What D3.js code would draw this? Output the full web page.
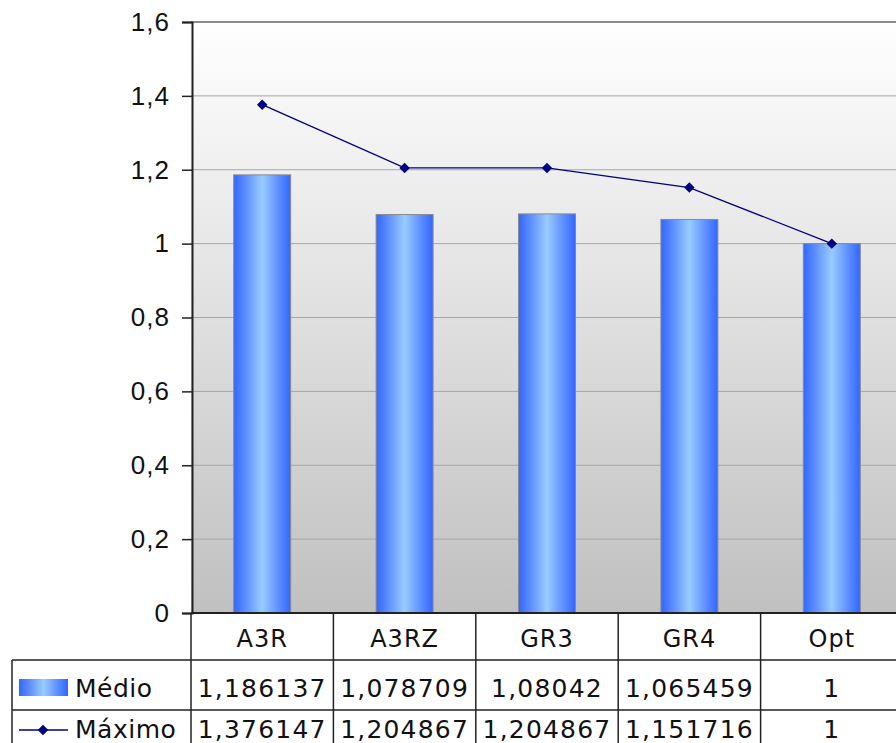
<!DOCTYPE html>
<html>
<head>
<meta charset="utf-8">
<script src="https://cdn.jsdelivr.net/npm/d3@7"></script>
<style>
  html, body { margin: 0; padding: 0; background: #fff; }
  svg { display: block; font-family: "DejaVu Sans", Verdana, sans-serif; }
</style>
</head>
<body>
<div id="chart"></div>
<script>
const categories = ['A3R', 'A3RZ', 'GR3', 'GR4', 'Opt'];
const medio = [1.186137, 1.078709, 1.08042, 1.065459, 1];
const maximo = [1.376147, 1.204867, 1.204867, 1.151716, 1];
const yTicks = [0, 0.2, 0.4, 0.6, 0.8, 1, 1.2, 1.4, 1.6];
const seriesNames = ['Médio', 'Máximo'];

const W = 896, H = 743;
const plot = { left: 191, top: 22, bottom: 613, catWidth: 142.4 };

const fmtNum = v => String(v).replace('.', ',');

const svg = d3.select('#chart').append('svg')
  .attr('width', W)
  .attr('height', H);

const defs = svg.append('defs');

const bg = defs.append('linearGradient')
  .attr('id', 'bgGrad')
  .attr('x1', 0).attr('y1', 0).attr('x2', 0).attr('y2', 1);
bg.append('stop').attr('offset', '0%').attr('stop-color', '#ffffff');
bg.append('stop').attr('offset', '100%').attr('stop-color', '#c0c0c0');

const barGrad = defs.append('linearGradient')
  .attr('id', 'barGrad')
  .attr('x1', 0).attr('y1', 0).attr('x2', 1).attr('y2', 0);
barGrad.append('stop').attr('offset', '0%').attr('stop-color', '#3366ff');
barGrad.append('stop').attr('offset', '20%').attr('stop-color', '#5b8cff');
barGrad.append('stop').attr('offset', '50%').attr('stop-color', '#99ccff');
barGrad.append('stop').attr('offset', '80%').attr('stop-color', '#5b8cff');
barGrad.append('stop').attr('offset', '100%').attr('stop-color', '#3366ff');

const x = d3.scaleBand()
  .domain(categories)
  .range([plot.left, plot.left + categories.length * plot.catWidth])
  .paddingInner(0.6)
  .paddingOuter(0.3);

const xCell = d3.scaleBand()
  .domain(categories)
  .range([plot.left, plot.left + categories.length * plot.catWidth]);

const y = d3.scaleLinear()
  .domain([0, 1.6])
  .range([plot.bottom, plot.top]);

// plot background
svg.append('rect')
  .attr('x', plot.left)
  .attr('y', plot.top)
  .attr('width', W - plot.left)
  .attr('height', plot.bottom - plot.top)
  .attr('fill', 'url(#bgGrad)');

// gridlines
svg.append('g')
  .selectAll('line')
  .data(yTicks.filter(d => d > 0))
  .join('line')
  .attr('x1', plot.left)
  .attr('x2', W)
  .attr('y1', d => y(d))
  .attr('y2', d => y(d))
  .attr('stroke', d => d === 1.6 ? '#8c8c8c' : '#a6a6a6')
  .attr('stroke-width', d => d === 1.6 ? 2 : 1);

// y axis
const yAxis = d3.axisLeft(y)
  .tickValues(yTicks)
  .tickSize(10)
  .tickPadding(12)
  .tickFormat(d => fmtNum(d));

const yg = svg.append('g')
  .attr('transform', `translate(${plot.left + 1},0)`)
  .call(yAxis);
yg.select('.domain').attr('stroke', '#222').attr('stroke-width', 2);
yg.selectAll('.tick line').attr('stroke', '#222').attr('stroke-width', 1.5);
yg.selectAll('.tick text')
  .attr('font-size', 26)
  .attr('letter-spacing', 1)
  .attr('fill', '#111');

// bars
svg.append('g')
  .selectAll('rect')
  .data(medio)
  .join('rect')
  .attr('x', (d, i) => x(categories[i]))
  .attr('y', d => y(d))
  .attr('width', x.bandwidth())
  .attr('height', d => y(0) - y(d))
  .attr('fill', 'url(#barGrad)')
  .attr('stroke', '#8a8a8a')
  .attr('stroke-width', 1);

// maximo line
const cx = i => x(categories[i]) + x.bandwidth() / 2;
const line = d3.line()
  .x((d, i) => cx(i))
  .y(d => y(d));

svg.append('path')
  .datum(maximo)
  .attr('fill', 'none')
  .attr('stroke', '#000080')
  .attr('stroke-width', 1.3)
  .attr('d', line);

const diamond = d3.symbol().type(d3.symbolDiamond2).size(70);
svg.append('g')
  .selectAll('path')
  .data(maximo)
  .join('path')
  .attr('transform', (d, i) => `translate(${cx(i)},${y(d)})`)
  .attr('d', diamond)
  .attr('fill', '#000080');

// data table
const table = svg.append('g');
const rowTop = [plot.bottom, 660, 710, 760];
const tableLeft = 12;
const tableRight = W + 10;

// x axis line (top of table)
table.append('line')
  .attr('x1', plot.left).attr('x2', tableRight)
  .attr('y1', plot.bottom).attr('y2', plot.bottom)
  .attr('stroke', '#222').attr('stroke-width', 2);

// horizontal row lines
table.selectAll('line.row')
  .data([rowTop[1], rowTop[2]])
  .join('line')
  .attr('class', 'row')
  .attr('x1', tableLeft).attr('x2', tableRight)
  .attr('y1', d => d).attr('y2', d => d)
  .attr('stroke', '#222').attr('stroke-width', 1.5);

// vertical cell lines
const vx = categories.map(c => xCell(c)).concat([xCell(categories[4]) + xCell.bandwidth()]);
table.selectAll('line.col')
  .data(vx)
  .join('line')
  .attr('class', 'col')
  .attr('x1', d => d).attr('x2', d => d)
  .attr('y1', plot.bottom).attr('y2', H)
  .attr('stroke', '#222').attr('stroke-width', 1.5);

table.append('line')
  .attr('x1', tableLeft).attr('x2', tableLeft)
  .attr('y1', rowTop[1]).attr('y2', H)
  .attr('stroke', '#222').attr('stroke-width', 1.5);

// category labels
table.selectAll('text.cat')
  .data(categories)
  .join('text')
  .attr('class', 'cat')
  .attr('x', d => xCell(d) + xCell.bandwidth() / 2)
  .attr('y', 647)
  .attr('text-anchor', 'middle')
  .attr('font-size', 24)
  .attr('letter-spacing', 1)
  .attr('fill', '#111')
  .text(d => d);

// value rows
[medio, maximo].forEach((vals, r) => {
  table.selectAll(`text.val${r}`)
    .data(vals)
    .join('text')
    .attr('class', `val${r}`)
    .attr('x', (d, i) => xCell(categories[i]) + xCell.bandwidth() / 2)
    .attr('y', r === 0 ? 697 : 738)
    .attr('text-anchor', 'middle')
    .attr('font-size', 25)
    .attr('letter-spacing', 1.2)
    .attr('fill', '#111')
    .text(d => fmtNum(d));
});

// legend keys in table
table.append('rect')
  .attr('x', 19).attr('y', 679)
  .attr('width', 49).attr('height', 17)
  .attr('fill', 'url(#barGrad)');

table.append('line')
  .attr('x1', 19).attr('x2', 68)
  .attr('y1', 730).attr('y2', 730)
  .attr('stroke', '#000080').attr('stroke-width', 1.3);
table.append('path')
  .attr('transform', 'translate(43,730)')
  .attr('d', diamond)
  .attr('fill', '#000080');

table.selectAll('text.series')
  .data(seriesNames)
  .join('text')
  .attr('class', 'series')
  .attr('x', 75)
  .attr('y', (d, i) => i === 0 ? 697 : 738)
  .attr('font-size', 25)
  .attr('letter-spacing', 0.5)
  .attr('fill', '#111')
  .text(d => d);
</script>
</body>
</html>
